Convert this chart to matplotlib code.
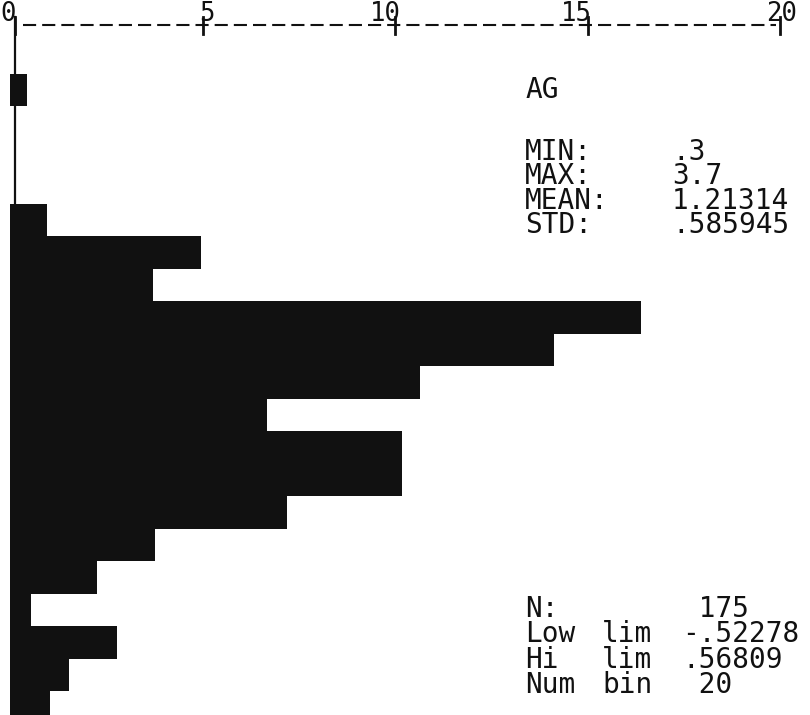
#!/usr/bin/env python3

import matplotlib
matplotlib.use('Agg')
import matplotlib.pyplot as plt
import matplotlib.transforms as mtransforms
import numpy as np

# histogram of AG, 20 bins, bar length
bins = np.arange(20)
counts = [0.45, 0, 0, 0, 0.96, 4.96, 3.71, 16.39, 14.13, 10.65,
          6.68, 10.18, 10.18, 7.19, 3.77, 2.26, 0.55, 2.78, 1.53, 1.04]
scale_ticks = [0, 5, 10, 15, 20]
scale_labels = ['0', '5', '10', '15', '20']

var_name = 'AG'
stat_names = ['MIN:', 'MAX:', 'MEAN:', 'STD:']
stat_values = ['.3', '3.7', '1.21314', '.585945']
info_col1 = ['N:', 'Low', 'Hi', 'Num']
info_col2 = ['', 'lim', 'lim', 'bin']
info_values = [' 175', '-.52278', '.56809', ' 20']

W, H = 810, 715
fig = plt.figure(figsize=(W / 100, H / 100), dpi=100)
ax = fig.add_axes([0, 0, 1, 1])
ax.set_axis_off()

px = 38.5      # pixels per unit on the scale
x0 = 10        # pixel of value 0
row = 32.5     # pixels per bin
y0 = 74        # pixel of first bin top
ax.set_xlim(-x0 / px, (W - x0) / px)
ax.set_ylim((H - y0) / row, -y0 / row)

ink = '#111111'
trans = mtransforms.blended_transform_factory(ax.transData, ax.transAxes)

def fy(p):
    # pixel row from top -> axes fraction
    return 1 - p / H

# vertical axis line
ax.plot([0.13, 0.13], [fy(17), 0], transform=trans, color=ink, lw=1.6, zorder=1)

# bars
ax.barh(bins, counts, height=1.0, align='edge', color=ink, edgecolor='none', zorder=2)

# top scale: dashed line with ticks
ax.plot([0.35, 19.9], [fy(25), fy(25)], transform=trans, color=ink, lw=1.5,
        dashes=(6.3, 2.9), dash_capstyle='butt')
lab_shift = [-0.05, 0.12, -0.25, -0.3, 0.05]
for t, lab, s in zip(scale_ticks, scale_labels, lab_shift):
    tx = 0.13 if t == 0 else t
    ax.plot([tx, tx], [fy(17), fy(34)], transform=trans, color=ink, lw=2)
    ax.text(t + s, fy(21), lab, transform=trans, ha='center', va='baseline',
            family='DejaVu Sans Mono', fontsize=18.5, color=ink)

fs = 20
asc = 0.76 * fs * 100 / 72   # offset from text top to first baseline
lead = 28.2                  # line pitch at linespacing 1.0 (measured)
font = dict(family='DejaVu Sans Mono', fontsize=fs, color=ink, va='top', ha='left')

ax.text(525 / W, fy(97 - asc), var_name, transform=ax.transAxes, **font)

sp_top = 23.5 / lead
ax.text(525 / W, fy(159 - asc), '\n'.join(stat_names), transform=ax.transAxes,
        linespacing=sp_top, **font)
ax.text(672 / W, fy(159 - asc), '\n'.join(stat_values), transform=ax.transAxes,
        linespacing=sp_top, **font)

sp_bot = 25 / lead
ax.text(525 / W, fy(616 - asc), '\n'.join(info_col1), transform=ax.transAxes,
        linespacing=sp_bot, **font)
ax.text(602 / W, fy(616 - asc), '\n'.join(info_col2), transform=ax.transAxes,
        linespacing=sp_bot, **font)
ax.text(682 / W, fy(616 - asc), '\n'.join(info_values), transform=ax.transAxes,
        linespacing=sp_bot, **font)

fig.savefig('out.png', dpi=100)
